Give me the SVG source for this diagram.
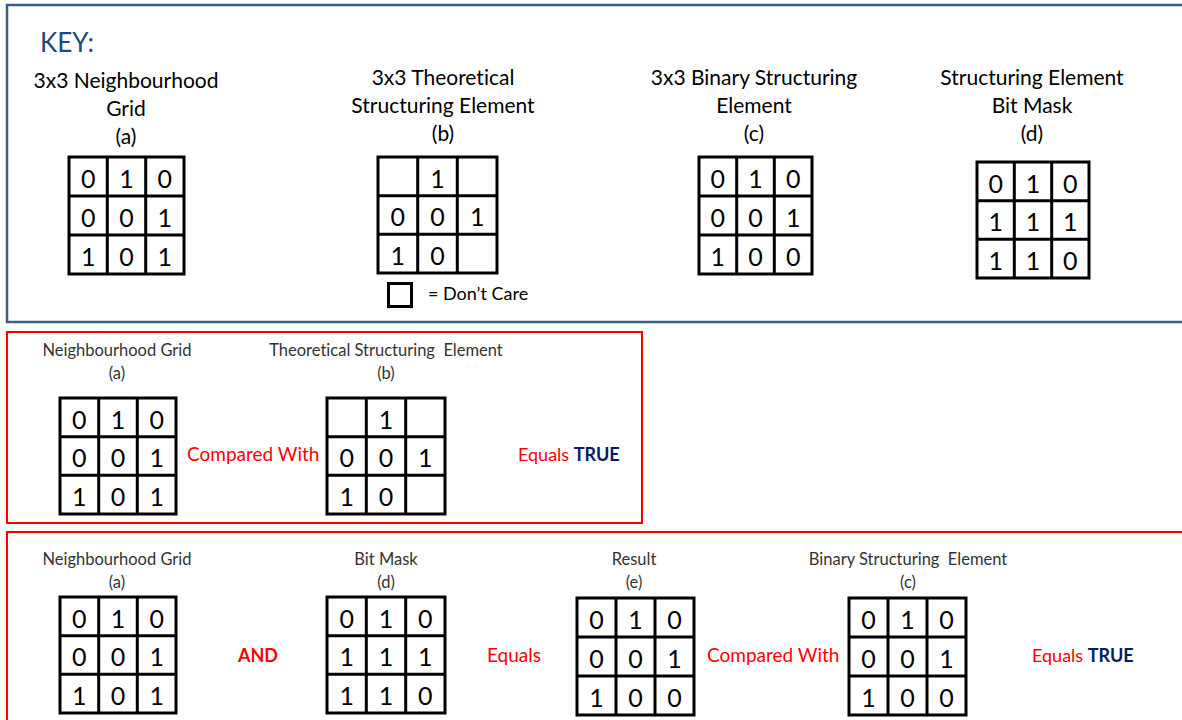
<svg xmlns="http://www.w3.org/2000/svg" width="1182" height="720" viewBox="0 0 1182 720">
  <style>
    text { font-family: Lato, "Open Sans", "Liberation Sans", sans-serif; font-variant-ligatures: none; white-space: pre; }
    .frame-key { fill: none; stroke: #385D8A; stroke-width: 2.5; }
    .frame-red { fill: none; stroke: #FF0000; stroke-width: 2; }
    .grid rect, .grid path, .dc { fill: none; stroke: #000; stroke-width: 3; }
    .grid text { font-size: 25px; fill: #000; text-anchor: middle; }
    .key-title { font-size: 26px; fill: #1F497D; }
    .head { font-size: 21px; fill: #000; text-anchor: middle; }
    .lbl { font-size: 16.5px; fill: #333; text-anchor: middle; }
    .op { font-size: 19px; fill: #FF0000; }
    .res { font-size: 18px; fill: #FF0000; }
    .and { font-size: 18px; font-weight: bold; fill: #FF0000; text-anchor: middle; }
    .true { font-weight: bold; fill: #002060; }
  </style>

  <rect width="1182" height="720" fill="#fff"/>

  <!-- Panel frames -->
  <rect class="frame-key" x="7" y="5" width="1200" height="317"/>
  <rect class="frame-red" x="7" y="332" width="635" height="191"/>
  <rect class="frame-red" x="7" y="532" width="1200" height="300"/>

  <!-- KEY panel -->
  <text class="key-title" x="40" y="52">KEY:</text>

  <g id="key-a">
    <text class="head" x="126" y="88">3x3 Neighbourhood</text>
    <text class="head" x="126" y="116">Grid</text>
    <text class="head" x="126" y="144">(a)</text>
    <g class="grid">
      <rect x="69" y="157" width="115" height="117"/>
      <path d="M107.3 157V274M145.7 157V274M69 196H184M69 235H184"/>
      <text x="88.2" y="187.5">0</text><text x="126.5" y="187.5">1</text><text x="164.8" y="187.5">0</text>
      <text x="88.2" y="226.5">0</text><text x="126.5" y="226.5">0</text><text x="164.8" y="226.5">1</text>
      <text x="88.2" y="265.5">1</text><text x="126.5" y="265.5">0</text><text x="164.8" y="265.5">1</text>
    </g>
  </g>

  <g id="key-b">
    <text class="head" x="443" y="85">3x3 Theoretical</text>
    <text class="head" x="443" y="113">Structuring Element</text>
    <text class="head" x="443" y="141">(b)</text>
    <g class="grid">
      <rect x="378" y="157" width="119" height="116"/>
      <path d="M417.7 157V273M457.3 157V273M378 195.7H497M378 234.3H497"/>
      <text x="437.5" y="187.5">1</text>
      <text x="397.8" y="226.2">0</text><text x="437.5" y="226.2">0</text><text x="477.2" y="226.2">1</text>
      <text x="397.8" y="264.8">1</text><text x="437.5" y="264.8">0</text>
    </g>
    <rect class="dc" x="388.5" y="283.5" width="23" height="23"/>
    <text x="428" y="300" font-size="18" fill="#000">= Don’t Care</text>
  </g>

  <g id="key-c">
    <text class="head" x="754" y="85">3x3 Binary Structuring</text>
    <text class="head" x="754" y="113">Element</text>
    <text class="head" x="754" y="141">(c)</text>
    <g class="grid">
      <rect x="699" y="157" width="113" height="117"/>
      <path d="M736.7 157V274M774.3 157V274M699 196H812M699 235H812"/>
      <text x="717.8" y="187.5">0</text><text x="755.5" y="187.5">1</text><text x="793.2" y="187.5">0</text>
      <text x="717.8" y="226.5">0</text><text x="755.5" y="226.5">0</text><text x="793.2" y="226.5">1</text>
      <text x="717.8" y="265.5">1</text><text x="755.5" y="265.5">0</text><text x="793.2" y="265.5">0</text>
    </g>
  </g>

  <g id="key-d">
    <text class="head" x="1032" y="85">Structuring Element</text>
    <text class="head" x="1032" y="113">Bit Mask</text>
    <text class="head" x="1032" y="141">(d)</text>
    <g class="grid">
      <rect x="977" y="162" width="112" height="116"/>
      <path d="M1014.3 162V278M1051.7 162V278M977 200.7H1089M977 239.3H1089"/>
      <text x="995.7" y="192.5">0</text><text x="1033" y="192.5">1</text><text x="1070.3" y="192.5">0</text>
      <text x="995.7" y="231.2">1</text><text x="1033" y="231.2">1</text><text x="1070.3" y="231.2">1</text>
      <text x="995.7" y="269.8">1</text><text x="1033" y="269.8">1</text><text x="1070.3" y="269.8">0</text>
    </g>
  </g>

  <!-- Direct comparison against the theoretical element -->
  <g id="cmp-a">
    <text class="lbl" x="117" y="356">Neighbourhood Grid</text>
    <text class="lbl" x="117" y="379">(a)</text>
    <g class="grid">
      <rect x="60" y="398" width="116" height="116"/>
      <path d="M98.7 398V514M137.3 398V514M60 436.7H176M60 475.3H176"/>
      <text x="79.3" y="428.5">0</text><text x="118" y="428.5">1</text><text x="156.7" y="428.5">0</text>
      <text x="79.3" y="467.2">0</text><text x="118" y="467.2">0</text><text x="156.7" y="467.2">1</text>
      <text x="79.3" y="505.8">1</text><text x="118" y="505.8">0</text><text x="156.7" y="505.8">1</text>
    </g>
  </g>

  <g id="cmp-b">
    <text class="lbl" x="386" y="356" xml:space="preserve">Theoretical Structuring  Element</text>
    <text class="lbl" x="386" y="379">(b)</text>
    <g class="grid">
      <rect x="327" y="398" width="118" height="116"/>
      <path d="M366.3 398V514M405.7 398V514M327 436.7H445M327 475.3H445"/>
      <text x="386" y="428.5">1</text>
      <text x="346.7" y="467.2">0</text><text x="386" y="467.2">0</text><text x="425.3" y="467.2">1</text>
      <text x="346.7" y="505.8">1</text><text x="386" y="505.8">0</text>
    </g>
  </g>

  <g id="cmp-ops">
    <text class="op" x="187" y="461">Compared With</text>
    <text class="res" x="518" y="461">Equals <tspan class="true">TRUE</tspan></text>
  </g>

  <!-- Bit-mask route: AND, then compare with the binary element -->
  <g id="and-a">
    <text class="lbl" x="117" y="565">Neighbourhood Grid</text>
    <text class="lbl" x="117" y="588">(a)</text>
    <g class="grid">
      <rect x="60" y="597" width="116" height="116"/>
      <path d="M98.7 597V713M137.3 597V713M60 635.7H176M60 674.3H176"/>
      <text x="79.3" y="627.5">0</text><text x="118" y="627.5">1</text><text x="156.7" y="627.5">0</text>
      <text x="79.3" y="666.2">0</text><text x="118" y="666.2">0</text><text x="156.7" y="666.2">1</text>
      <text x="79.3" y="704.8">1</text><text x="118" y="704.8">0</text><text x="156.7" y="704.8">1</text>
    </g>
  </g>

  <g id="and-d">
    <text class="lbl" x="386" y="565">Bit Mask</text>
    <text class="lbl" x="386" y="588">(d)</text>
    <g class="grid">
      <rect x="327" y="597" width="118" height="116"/>
      <path d="M366.3 597V713M405.7 597V713M327 635.7H445M327 674.3H445"/>
      <text x="346.7" y="627.5">0</text><text x="386" y="627.5">1</text><text x="425.3" y="627.5">0</text>
      <text x="346.7" y="666.2">1</text><text x="386" y="666.2">1</text><text x="425.3" y="666.2">1</text>
      <text x="346.7" y="704.8">1</text><text x="386" y="704.8">1</text><text x="425.3" y="704.8">0</text>
    </g>
  </g>

  <g id="and-e">
    <text class="lbl" x="634" y="565">Result</text>
    <text class="lbl" x="634" y="588">(e)</text>
    <g class="grid">
      <rect x="577" y="598" width="117" height="117"/>
      <path d="M616 598V715M655 598V715M577 637H694M577 676H694"/>
      <text x="596.5" y="628.5">0</text><text x="635.5" y="628.5">1</text><text x="674.5" y="628.5">0</text>
      <text x="596.5" y="667.5">0</text><text x="635.5" y="667.5">0</text><text x="674.5" y="667.5">1</text>
      <text x="596.5" y="706.5">1</text><text x="635.5" y="706.5">0</text><text x="674.5" y="706.5">0</text>
    </g>
  </g>

  <g id="and-c">
    <text class="lbl" x="908" y="565" xml:space="preserve">Binary Structuring  Element</text>
    <text class="lbl" x="908" y="588">(c)</text>
    <g class="grid">
      <rect x="849" y="598" width="117" height="117"/>
      <path d="M888 598V715M927 598V715M849 637H966M849 676H966"/>
      <text x="868.5" y="628.5">0</text><text x="907.5" y="628.5">1</text><text x="946.5" y="628.5">0</text>
      <text x="868.5" y="667.5">0</text><text x="907.5" y="667.5">0</text><text x="946.5" y="667.5">1</text>
      <text x="868.5" y="706.5">1</text><text x="907.5" y="706.5">0</text><text x="946.5" y="706.5">0</text>
    </g>
  </g>

  <g id="and-ops">
    <text class="and" x="258" y="662">AND</text>
    <text class="op" x="487" y="662">Equals</text>
    <text class="op" x="707" y="662">Compared With</text>
    <text class="res" x="1032" y="662">Equals <tspan class="true">TRUE</tspan></text>
  </g>
</svg>
